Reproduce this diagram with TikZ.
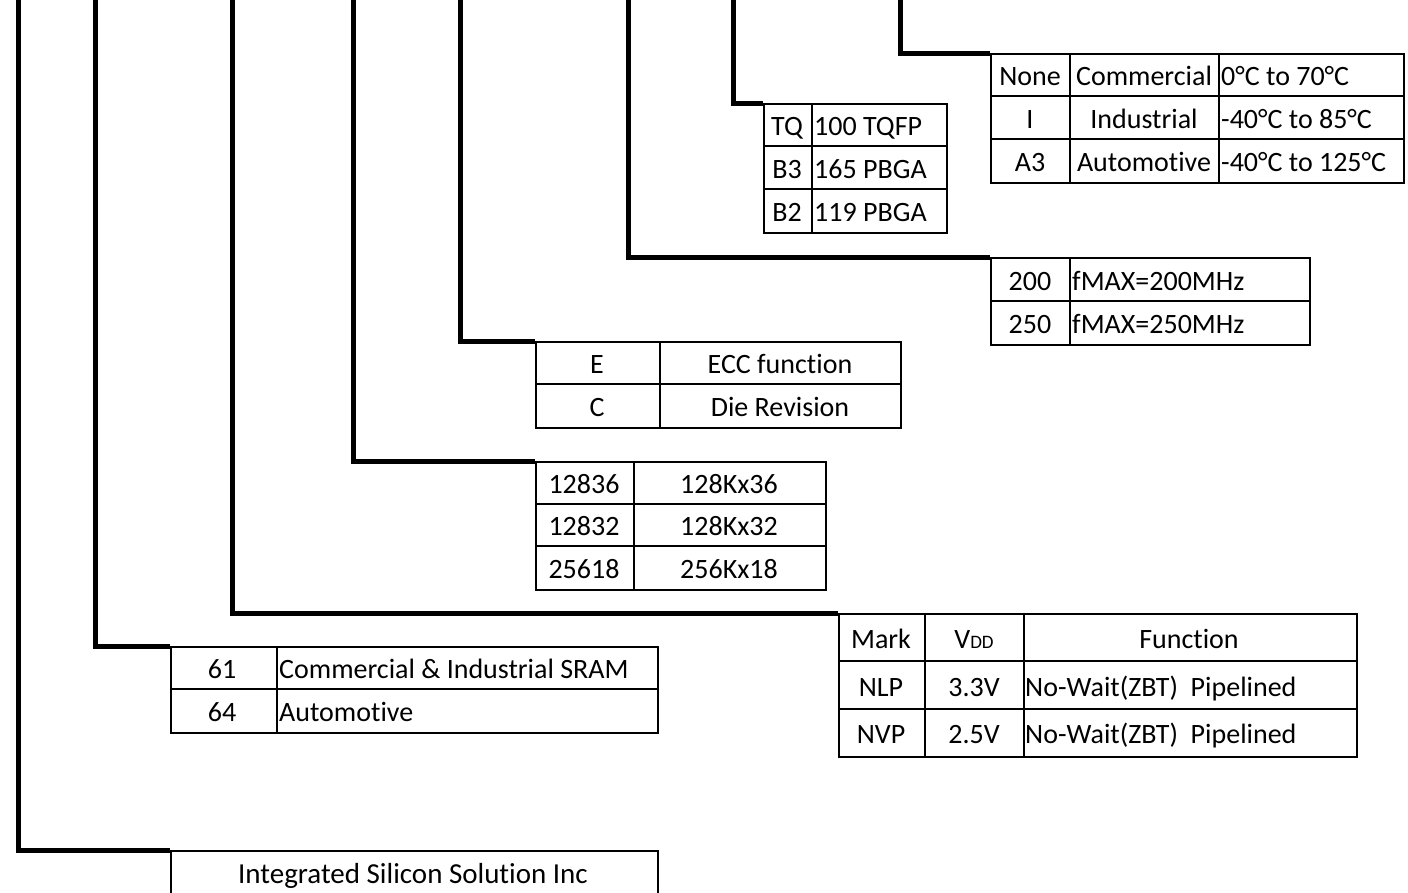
\documentclass[tikz,border=0pt]{standalone}
\usepackage{fontspec}
\setmainfont[Ligatures=NoCommon]{Carlito}
\newcommand{\vdd}{V{\fontsize{19}{19}\selectfont DD}}
\begin{document}
\begin{tikzpicture}[x=1pt,y=-1pt,
  conn/.style={line width=5pt, line join=miter},
  tbl/.style={draw, line width=1.8pt, inner sep=0pt, anchor=north west},
  gridl/.style={line width=1.8pt},
  cell/.style={inner sep=0pt, yshift=-4pt, text height=19pt, text depth=6pt, font=\fontsize{28}{33}\selectfont},
  lcell/.style={cell, anchor=west}]
\useasboundingbox (0,0) rectangle (1408,892);
\clip (0,0) rectangle (1408,892);
% top ends of the connectors
\coordinate (cA) at (18,-5);
\coordinate (cB) at (95,-5);
\coordinate (cC) at (232,-5);
\coordinate (cD) at (353,-5);
\coordinate (cE) at (460,-5);
\coordinate (cF) at (628,-5);
\coordinate (cG) at (733,-5);
\coordinate (cH) at (900,-5);
% tables (outer frames)
\node[tbl, minimum width=413pt, minimum height=129pt] (Ttemp) at (990,53) {};
\node[tbl, minimum width=183pt, minimum height=129pt] (Tpkg) at (763,103) {};
\node[tbl, minimum width=319pt, minimum height=87pt] (Tspd) at (990,257) {};
\node[tbl, minimum width=365pt, minimum height=86pt] (Tecc) at (535,341) {};
\node[tbl, minimum width=290pt, minimum height=128pt] (Tsize) at (535,461) {};
\node[tbl, minimum width=518pt, minimum height=143pt] (Tmark) at (838,613) {};
\node[tbl, minimum width=487pt, minimum height=86pt] (T61) at (170,646) {};
\node[tbl, minimum width=487pt, minimum height=46pt] (Tissi) at (170,850) {};
% connectors
\draw[conn] (cA) |- (Tissi.north west);
\draw[conn] (cB) |- (T61.north west);
\draw[conn] (cC) |- (Tmark.north west);
\draw[conn] (cD) |- (Tsize.north west);
\draw[conn] (cE) |- (Tecc.north west);
\draw[conn] (cF) |- (Tspd.north west);
\draw[conn] (cG) |- (Tpkg.north west);
\draw[conn] (cH) |- (Ttemp.north west);
% table grid lines
\draw[gridl] (990,96) -- (1403,96) (990,139) -- (1403,139) (1070,53) -- (1070,182) (1219,53) -- (1219,182);
\draw[gridl] (763,146) -- (946,146) (763,189) -- (946,189) (812,103) -- (812,232);
\draw[gridl] (990,301) -- (1309,301) (1070,257) -- (1070,344);
\draw[gridl] (535,384) -- (900,384) (660,341) -- (660,427);
\draw[gridl] (535,504) -- (825,504) (535,546) -- (825,546) (634,461) -- (634,589);
\draw[gridl] (838,661) -- (1356,661) (838,709) -- (1356,709) (925,613) -- (925,756) (1024,613) -- (1024,756);
\draw[gridl] (170,689) -- (657,689) (277,646) -- (277,732);
% texts: temperature
\node[cell] (t11) at (1030,75) {None};
\node[cell] (t12) at (1144,75) {Commercial};
\node[lcell] (t13) at (1221,75) {0°C to 70°C};
\node[cell] (t21) at (1030,118) {I};
\node[cell] (t22) at (1144,118) {Industrial};
\node[lcell] (t23) at (1221,118) {-40°C to 85°C};
\node[cell] (t31) at (1030,161) {A3};
\node[cell] (t32) at (1144,161) {Automotive};
\node[lcell] (t33) at (1221,161) {-40°C to 125°C};
% package
\node[cell] (p11) at (787,125) {TQ};
\node[lcell] (p12) at (814,125) {100 TQFP};
\node[cell] (p21) at (787,168) {B3};
\node[lcell] (p22) at (814,168) {165 PBGA};
\node[cell] (p31) at (787,211) {B2};
\node[lcell] (p32) at (814,211) {119 PBGA};
% speed
\node[cell] (s11) at (1030,280) {200};
\node[lcell] (s12) at (1072,280) {fMAX=200MHz};
\node[cell] (s21) at (1030,323) {250};
\node[lcell] (s22) at (1072,323) {fMAX=250MHz};
% ecc
\node[cell] (e11) at (597,363) {E};
\node[cell] (e12) at (780,363) {ECC function};
\node[cell] (e21) at (597,406) {C};
\node[cell] (e22) at (780,406) {Die Revision};
% size
\node[cell] (z11) at (584,483) {12836};
\node[cell] (z12) at (729,483) {128Kx36};
\node[cell] (z21) at (584,525) {12832};
\node[cell] (z22) at (729,525) {128Kx32};
\node[cell] (z31) at (584,568) {25618};
\node[cell] (z32) at (729,568) {256Kx18};
% mark
\node[cell] (m11) at (881,638) {Mark};
\node[cell] (m12) at (974,638) {\vdd};
\node[cell] (m13) at (1189,638) {Function};
\node[cell] (m21) at (881,686) {NLP};
\node[cell] (m22) at (974,686) {3.3V};
\node[lcell] (m23) at (1025,686) {No-Wait(ZBT)\ \ Pipelined};
\node[cell] (m31) at (881,733) {NVP};
\node[cell] (m32) at (974,733) {2.5V};
\node[lcell] (m33) at (1025,733) {No-Wait(ZBT)\ \ Pipelined};
% 61 / 64
\node[cell] (f11) at (222,668) {61};
\node[lcell] (f12) at (279,668) {Commercial \& Industrial SRAM};
\node[cell] (f21) at (222,711) {64};
\node[lcell] (f22) at (279,711) {Automotive};
% company
\node[cell, font=\fontsize{29}{34}\selectfont] (issi) at (413,873) {Integrated Silicon Solution Inc};
\end{tikzpicture}
\end{document}
